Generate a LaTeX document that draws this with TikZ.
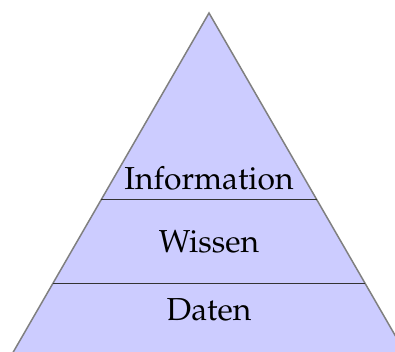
\documentclass[tikz,border=0pt]{standalone}
\usepackage[T1]{fontenc}
\usepackage{mathpazo}
\begin{document}
\begin{tikzpicture}[x=1pt,y=-1pt,
  lbl/.style={font=\fontsize{31.8}{36}\selectfont, anchor=base, inner sep=0pt},
  edge/.style={draw=gray, line width=1.5pt},
  sep/.style={draw=black!80, line width=1pt}]
\useasboundingbox (0,0) rectangle (395,352);
\clip (0,0) rectangle (395,352);
\path[fill=blue!20, edge] (209,13) -- (209-0.57735*400,413) -- (209+0.57735*400,413) -- cycle;
\draw[sep] (209-0.57735*187,200) -- (209+0.57735*187,200);
\draw[sep] (209-0.57735*270,283) -- (209+0.57735*270,283);
\node[lbl] (info) at (209,190) {Information};
\node[lbl] (wissen) at (209,252) {Wissen};
\node[lbl] (daten) at (209,320) {Daten};
\end{tikzpicture}
\end{document}
